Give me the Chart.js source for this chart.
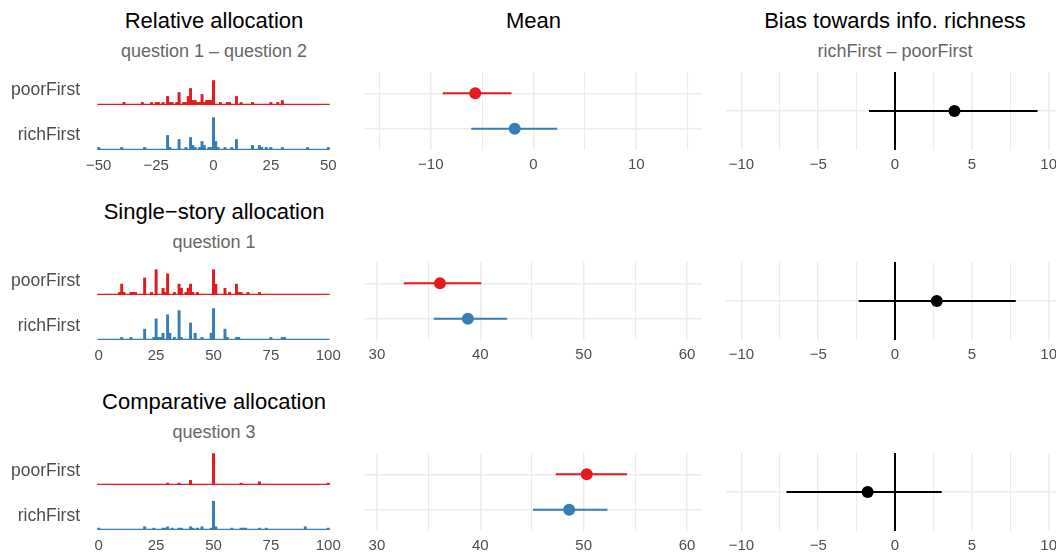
<!DOCTYPE html>
<html>
<head>
<meta charset="utf-8">
<script src="https://cdn.jsdelivr.net/npm/chart.js@4.4.1/dist/chart.umd.min.js"></script>
<style>
  html, body { margin: 0; padding: 0; background: #fff; }
  body { width: 1056px; height: 557px; overflow: hidden; position: relative;
         font-family: "Liberation Sans", Arial, sans-serif; }
  canvas { position: absolute; }
  .txt { position: absolute; display: flex; align-items: center; white-space: nowrap; line-height: normal; }
</style>
</head>
<body>
<script>
// ---------- data ----------
const groups = ['poorFirst', 'richFirst'];
const groupColours = ['#E41A1C', '#377EB8'];

// histogram bins: value -> count (empty bins left out)
const relRange = [-50, 50];
const relPoorVals   = [-39,-31,-27,-25,-24,-22,-20,-19,-18,-16,-15,-13,-12,-11,-10,-9,-8,-7,-6,-5,-4,-3,-2,-1,0,3,6,7,10,12,17,25,28,30];
const relPoorCounts = [1,1,1,1,1,1,4,1,1,1,6,1,1,4,8,2,2,1,1,5,1,2,2,2,12,1,1,1,4,1,1,1,1,2];
const relRichVals   = [-50,-40,-30,-20,-19,-15,-12,-10,-9,-8,-6,-5,-4,-2,-1,0,1,2,5,8,10,17,20,21,23,25,30,41,50];
const relRichCounts = [1,1,1,7,1,5,1,6,2,1,1,4,2,1,1,16,4,1,1,1,5,2,2,1,1,1,1,1,1];

const pctRange = [0, 100];
const singlePoorVals   = [9,10,11,14,15,16,20,23,25,28,29,30,33,35,36,38,39,40,41,43,50,51,55,57,60,61,62,65,70];
const singlePoorCounts = [1,5,1,1,1,1,8,1,12,3,1,10,1,5,3,1,3,5,1,1,12,5,3,1,5,1,1,1,1];
const singleRichVals   = [10,14,20,24,25,26,27,28,30,31,33,35,36,40,42,45,49,50,55,56,60,61,75,80,81];
const singleRichCounts = [1,1,5,1,10,1,1,3,12,3,1,14,1,8,3,1,3,15,5,1,1,1,1,1,1];

const compPoorVals   = [30,35,40,50,62,70,100];
const compPoorCounts = [1,1,3,23,1,2,1];
const compRichVals   = [0,20,24,28,29,30,32,35,36,40,41,43,45,49,50,51,58,62,63,64,70,73,90,100];
const compRichCounts = [1,2,1,1,1,2,1,1,1,2,1,1,2,1,21,2,1,1,1,1,1,1,2,1];

// means with intervals (poorFirst, richFirst)
const relMean = [-5.67, -1.83], relLo = [-8.83, -6.06], relHi = [-2.15, 2.31];
const singleMean = [36.1, 38.8], singleLo = [32.6, 35.5], singleHi = [40.1, 42.6];
const compMean = [50.3, 48.6], compLo = [47.3, 45.1], compHi = [54.2, 52.3];

// bias richFirst - poorFirst (relative, single, comparative)
const biasMean = [3.87, 2.72, -1.78];
const biasLo = [-1.69, -2.36, -7.06];
const biasHi = [9.28, 7.86, 3.04];

// ticks
const relTicks = [-50, -25, 0, 25, 50];
const pctTicks = [0, 25, 50, 75, 100];
const relMeanGrid = [-15, -10, -5, 0, 5, 10, 15];
const relMeanTicks = [-10, 0, 10];
const pctMeanGrid = [30, 35, 40, 45, 50, 55, 60];
const pctMeanTicks = [30, 40, 50, 60];
const biasGrid = [-10, -7.5, -5, -2.5, 0, 2.5, 5, 7.5, 10];
const biasTicks = [-10, -5, 0, 5, 10];

// ---------- drawing ----------
Chart.defaults.font.family = '"Liberation Sans", Arial, sans-serif';
Chart.defaults.animation = false;
Chart.defaults.events = [];
Chart.defaults.plugins.legend.display = false;
Chart.defaults.plugins.tooltip.enabled = false;

const TICK_COL = '#4D4D4D';
const GRID_COL = '#EBEBEB';
const AXIS_H = 30;
const SIDE = 25; // spare room left/right so tick labels never squeeze the plot area
const fmt = v => String(v).replace('-', '\u2212');
const LAYOUT = { autoPadding: false, padding: { left: SIDE, right: SIDE, top: 0, bottom: 0 } };

// left/w describe the plot area; the canvas is wider by SIDE on both sides
function addCanvas(left, top, w, h) {
  const c = document.createElement('canvas');
  c.width = w + 2 * SIDE; c.height = h;
  c.style.left = (left - SIDE) + 'px'; c.style.top = top + 'px';
  document.body.appendChild(c);
  return c.getContext('2d');
}

function addText(txt, x, cy, size, colour, align) {
  const d = document.createElement('div');
  d.className = 'txt';
  d.textContent = txt;
  d.style.fontSize = size + 'px';
  d.style.color = colour;
  d.style.top = (cy - 20) + 'px';
  d.style.height = '40px';
  if (align === 'right') {
    d.style.left = (x - 300) + 'px'; d.style.width = '300px'; d.style.justifyContent = 'flex-end';
  } else {
    d.style.left = (x - 300) + 'px'; d.style.width = '600px'; d.style.justifyContent = 'center';
  }
  document.body.appendChild(d);
}

function xAxis(min, max, gridVals, labelVals, withGrid, zeroLine, shown) {
  const axis = {
    type: 'linear', min, max, offset: false, display: shown,
    grid: {
      display: withGrid, drawTicks: false,
      color: c => (zeroLine && c.tick && c.tick.value === 0) ? '#000' : GRID_COL,
      lineWidth: c => (zeroLine && c.tick && c.tick.value === 0) ? 2 :
        (c.tick && labelVals.includes(c.tick.value) ? 1.5 : 1.1)
    },
    border: { display: false },
    ticks: {
      padding: 6, color: TICK_COL, font: { size: 15 }, autoSkip: false, maxRotation: 0,
      callback: v => labelVals.includes(v) ? fmt(v) : ''
    },
    afterBuildTicks: a => { a.ticks = gridVals.map(v => ({ value: v })); }
  };
  if (shown) axis.afterFit = a => { a.height = AXIS_H; };
  return axis;
}

function histChart(left, top, h, vals, counts, range, yMax, colour, ticks) {
  const bins = [];
  for (let v = range[0]; v <= range[1]; v++) {
    const i = vals.indexOf(v);
    bins.push({ x: v, y: i >= 0 ? counts[i] : 0 });
  }
  const pad = (range[1] - range[0] + 1) * 0.05 + 0.5;
  const ctx = addCanvas(left, top, 255, h + (ticks ? AXIS_H : 0));
  new Chart(ctx, {
    type: 'bar',
    data: {
      datasets: [
        { type: 'bar', data: bins, backgroundColor: colour, borderWidth: 0,
          barPercentage: 1, categoryPercentage: 1, order: 1 },
        { type: 'line', data: [{ x: range[0] - 0.5, y: 0 }, { x: range[1] + 0.5, y: 0 }],
          borderColor: colour, borderWidth: 1.3, pointRadius: 0, order: 0 }
      ]
    },
    options: {
      responsive: false,
      layout: LAYOUT,
      scales: {
        x: xAxis(range[0] - pad, range[1] + pad, ticks || [], ticks || [], false, false, !!ticks),
        y: { type: 'linear', min: -0.05 * yMax, max: 1.05 * yMax, display: false }
      }
    }
  });
}

function dotChart(left, top, w, lim, gridVals, labelVals, means, los, his, colours, zeroLine) {
  const ctx = addCanvas(left, top, w, 78 + AXIS_H);
  const pts = means.map((m, i) => ({ x: m, y: i + 1 }));
  const bars = means.map((m, i) => ({
    type: 'line', data: [{ x: los[i], y: i + 1 }, { x: his[i], y: i + 1 }],
    borderColor: colours[i], borderWidth: 2, pointRadius: 0, order: 1
  }));
  new Chart(ctx, {
    type: 'scatter',
    data: {
      datasets: [
        { type: 'scatter', data: pts, pointBackgroundColor: colours, pointBorderColor: colours,
          pointBorderWidth: 0, pointRadius: 6, order: 0 },
        ...bars
      ]
    },
    options: {
      responsive: false,
      layout: LAYOUT,
      scales: {
        x: xAxis(lim[0], lim[1], gridVals, labelVals, true, zeroLine, true),
        y: {
          type: 'linear', min: 0.4, max: means.length + 0.6, reverse: true,
          grid: { color: GRID_COL, lineWidth: 1.5, drawTicks: false },
          border: { display: false },
          ticks: { display: false },
          afterBuildTicks: a => { a.ticks = means.map((m, i) => ({ value: i + 1 })); },
          afterFit: a => { a.width = 0; }
        }
      }
    }
  });
}

const rows = [
  { title: 'Relative allocation', sub: 'question 1 \u2013 question 2', ty: 21,
    hist: [[relPoorVals, relPoorCounts], [relRichVals, relRichCounts]], range: relRange, ticks: relTicks,
    histTop: [71, 116], histH: 35, meanTop: 72,
    mean: [relMean, relLo, relHi], lim: [-16.4, 16.4], grid: relMeanGrid, labels: relMeanTicks },
  { title: 'Single\u2212story allocation', sub: 'question 1', ty: 212,
    hist: [[singlePoorVals, singlePoorCounts], [singleRichVals, singleRichCounts]], range: pctRange, ticks: pctTicks,
    histTop: [262, 307], histH: 34, meanTop: 262,
    mean: [singleMean, singleLo, singleHi], lim: [28.85, 61.45], grid: pctMeanGrid, labels: pctMeanTicks },
  { title: 'Comparative allocation', sub: 'question 3', ty: 402,
    hist: [[compPoorVals, compPoorCounts], [compRichVals, compRichCounts]], range: pctRange, ticks: pctTicks,
    histTop: [452, 497], histH: 34, meanTop: 453,
    mean: [compMean, compLo, compHi], lim: [28.85, 61.45], grid: pctMeanGrid, labels: pctMeanTicks }
];

rows.forEach((r, ri) => {
  addText(r.title, 214, r.ty, 22, '#000');
  addText(r.sub, 214, r.ty + 30, 18, '#666');
  const yMax = Math.max(...r.hist[0][1], ...r.hist[1][1]);
  r.hist.forEach((hg, gi) => {
    histChart(86, r.histTop[gi], r.histH, hg[0], hg[1], r.range, yMax, groupColours[gi],
      gi === 1 ? r.ticks : null);
    addText(groups[gi], 80, r.histTop[gi] + r.histH / 2 + 1, 17.5, TICK_COL, 'right');
  });
  dotChart(365, r.meanTop, 337, r.lim, r.grid, r.labels, r.mean[0], r.mean[1], r.mean[2], groupColours, false);
  dotChart(726, r.meanTop, 338, [-11, 11], biasGrid, biasTicks,
    [biasMean[ri]], [biasLo[ri]], [biasHi[ri]], ['#000'], true);
});

addText('Mean', 533.5, 21, 22, '#000');
addText('Bias towards info. richness', 895, 21, 22, '#000');
addText('richFirst \u2013 poorFirst', 895, 51, 18, '#666');
</script>
</body>
</html>
